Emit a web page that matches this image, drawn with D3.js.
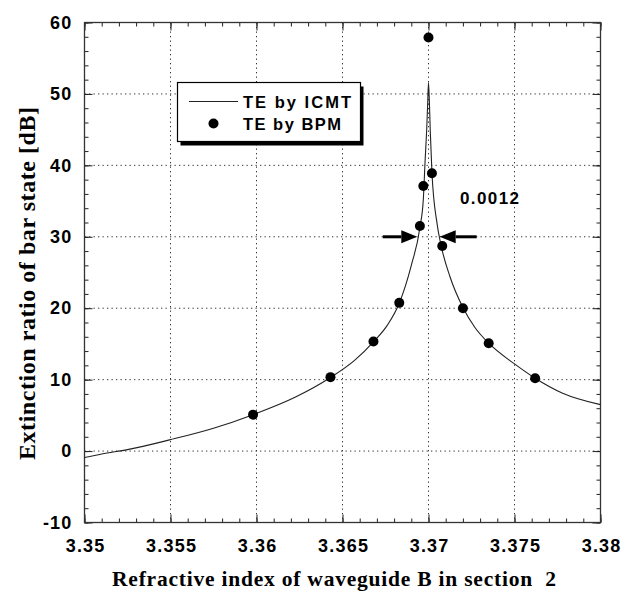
<!DOCTYPE html>
<html><head><meta charset="utf-8">
<script src="https://cdn.jsdelivr.net/npm/d3@7"></script>
<style>
html,body{margin:0;padding:0;background:#fff;}
svg{display:block;}
</style>
</head><body>
<svg id="chart" width="629" height="592"></svg>
<script>
// ---- data ----
const xTicks = [3.35, 3.355, 3.36, 3.365, 3.37, 3.375, 3.38];
const xTickLabels = ["3.35", "3.355", "3.36", "3.365", "3.37", "3.375", "3.38"];
const yTicks = [-10, 0, 10, 20, 30, 40, 50, 60];
const yTickLabels = ["-10", "0", "10", "20", "30", "40", "50", "60"];

// TE by ICMT (solid curve)
const icmtX = [3.3500, 3.3510, 3.3525, 3.3550, 3.3575, 3.3598, 3.3623, 3.3643, 3.3657, 3.3668, 3.3676, 3.3683,
               3.3690, 3.3695, 3.3697, 3.3698, 3.3699, 3.36995, 3.3700, 3.37005, 3.3701, 3.3702, 3.3705, 3.37073,
               3.37125, 3.3720, 3.3727, 3.3735, 3.3750, 3.3762, 3.3778, 3.3800];
const icmtY = [-0.9, -0.4, 0.2, 1.6, 3.2, 5.1, 7.6, 10.3, 12.7, 15.3, 17.6, 20.7,
               26.0, 31.3, 35.3, 40.5, 45.3, 48.5, 51.6, 49.0, 45.0, 39.0, 31.8, 28.8,
               24.4, 20.1, 17.3, 15.1, 12.2, 10.2, 8.1, 6.5];

// TE by BPM (dots)
const bpmX = [3.3598, 3.3643, 3.3668, 3.3683, 3.3695, 3.3697, 3.3700, 3.3702, 3.3708, 3.3720, 3.3735, 3.3762];
const bpmY = [5.1, 10.35, 15.35, 20.75, 31.5, 37.1, 57.9, 38.9, 28.7, 20.0, 15.1, 10.2];

// width annotation
const arrowTipX = [3.36935, 3.37065];
const arrowTailX = [3.36734, 3.37280];
const arrowY = 30;
const widthLabel = "0.0012";

// ---- layout ----
const svg = d3.select("#chart");
const L = 84.5, R = 600.5, T = 22.5, B = 522.5;
const x = d3.scaleLinear().domain([3.35, 3.38]).range([L, R]);
const y = d3.scaleLinear().domain([-10, 60]).range([B, T]);
const sansB = "'Liberation Sans', Arial, Helvetica, sans-serif";
const serifB = "'Liberation Serif', 'Times New Roman', serif";

// grid
const grid = svg.append("g").attr("stroke", "#333").attr("stroke-width", 1)
  .attr("stroke-dasharray", "1.3,3.2").attr("fill", "none");
xTicks.slice(1, -1).forEach(v => grid.append("line")
  .attr("x1", x(v)).attr("x2", x(v)).attr("y1", T).attr("y2", B));
yTicks.slice(1, -1).forEach(v => grid.append("line")
  .attr("x1", L).attr("x2", R).attr("y1", y(v)).attr("y2", y(v)));

// minor/major ticks on all four sides
const xMinor = x.ticks(30);
const yMinor = y.ticks(35);
function styleAxis(g){
  g.select(".domain").remove();
  g.selectAll(".tick line").attr("stroke", "#222").attr("stroke-width", 1);
}
svg.append("g").attr("transform", `translate(0,${B})`)
  .call(d3.axisBottom(x).tickValues(xMinor).tickSize(-4).tickFormat("")).call(styleAxis);
svg.append("g").attr("transform", `translate(0,${T})`)
  .call(d3.axisTop(x).tickValues(xMinor).tickSize(-4).tickFormat("")).call(styleAxis);
svg.append("g").attr("transform", `translate(${L},0)`)
  .call(d3.axisLeft(y).tickValues(yMinor).tickSize(-4).tickFormat("")).call(styleAxis);
svg.append("g").attr("transform", `translate(${R},0)`)
  .call(d3.axisRight(y).tickValues(yMinor).tickSize(-4).tickFormat("")).call(styleAxis);

const xAx = svg.append("g").attr("transform", `translate(0,${B})`)
  .call(d3.axisBottom(x).tickValues(xTicks).tickSize(-8).tickPadding(17)
    .tickFormat((d, i) => xTickLabels[i])).call(styleAxis);
svg.append("g").attr("transform", `translate(0,${T})`)
  .call(d3.axisTop(x).tickValues(xTicks).tickSize(-8).tickFormat("")).call(styleAxis);
const yAx = svg.append("g").attr("transform", `translate(${L},0)`)
  .call(d3.axisLeft(y).tickValues(yTicks).tickSize(-8).tickPadding(12)
    .tickFormat((d, i) => yTickLabels[i])).call(styleAxis);
svg.append("g").attr("transform", `translate(${R},0)`)
  .call(d3.axisRight(y).tickValues(yTicks).tickSize(-8).tickFormat("")).call(styleAxis);

[xAx, yAx].forEach(g => g.selectAll(".tick text")
  .attr("font-family", sansB).attr("font-weight", "bold").attr("font-size", 18)
  .attr("letter-spacing", 1.2).attr("fill", "#000"));
xAx.selectAll(".tick text").attr("dx", "0.6");

// frame
svg.append("rect").attr("x", L).attr("y", T).attr("width", R - L).attr("height", B - T)
  .attr("fill", "none").attr("stroke", "#333").attr("stroke-width", 1.3);

// curve
const pts = icmtX.map((v, i) => [v, icmtY[i]]);
svg.append("path").datum(pts)
  .attr("d", d3.line().x(d => x(d[0])).y(d => y(d[1])).curve(d3.curveMonotoneX))
  .attr("fill", "none").attr("stroke", "#222").attr("stroke-width", 1.1);

// dots
svg.append("g").selectAll("circle").data(bpmX).join("circle")
  .attr("cx", d => x(d)).attr("cy", (d, i) => y(bpmY[i])).attr("r", 5).attr("fill", "#000");

// arrows
const ag = svg.append("g").attr("fill", "#000").attr("stroke", "#000");
const headLen = 16, headHalf = 6.5;
arrowTipX.forEach((tx, i) => {
  const tip = x(tx), tail = x(arrowTailX[i]), yy = y(arrowY);
  const dir = Math.sign(tip - tail);
  ag.append("line").attr("x1", tail).attr("x2", tip - dir * headLen).attr("y1", yy).attr("y2", yy)
    .attr("stroke-width", 3);
  ag.append("path").attr("stroke", "none")
    .attr("d", `M${tip},${yy}L${tip - dir * headLen},${yy - headHalf}L${tip - dir * headLen},${yy + headHalf}Z`);
});
svg.append("text").attr("x", 460).attr("y", 203.5).text(widthLabel)
  .attr("font-family", sansB).attr("font-weight", "bold").attr("font-size", 17)
  .attr("textLength", 59).attr("lengthAdjust", "spacing").attr("fill", "#000");

// legend
const lg = svg.append("g");
lg.append("rect").attr("x", 180.5).attr("y", 86.5).attr("width", 183).attr("height", 59).attr("fill", "#000");
lg.append("rect").attr("x", 177.5).attr("y", 82.5).attr("width", 183).attr("height", 59)
  .attr("fill", "#fff").attr("stroke", "#000").attr("stroke-width", 1.2);
lg.append("line").attr("x1", 189).attr("x2", 238).attr("y1", 101.5).attr("y2", 101.5)
  .attr("stroke", "#222").attr("stroke-width", 1.1);
lg.append("circle").attr("cx", 213.5).attr("cy", 123.5).attr("r", 5).attr("fill", "#000");
const legendLabels = ["TE by ICMT", "TE by BPM"];
const legendBase = [107.5, 130];
const legendLen = [108, 98];
legendLabels.forEach((t, i) => lg.append("text").attr("x", 243).attr("y", legendBase[i])
  .text(t).attr("font-family", sansB).attr("font-weight", "bold").attr("font-size", 16.5)
  .attr("textLength", legendLen[i]).attr("lengthAdjust", "spacing").attr("fill", "#000"));

// axis titles
svg.append("text").attr("x", 112).attr("y", 586).text("Refractive index of waveguide B in section  2")
  .style("white-space", "pre")
  .attr("font-family", serifB).attr("font-weight", "bold").attr("font-size", 21.5)
  .attr("textLength", 444).attr("lengthAdjust", "spacing").attr("fill", "#000");
svg.append("text").attr("transform", "translate(35,460) rotate(-90)")
  .text("Extinction ratio of bar state [dB]")
  .attr("font-family", serifB).attr("font-weight", "bold").attr("font-size", 24)
  .attr("textLength", 353).attr("lengthAdjust", "spacing").attr("fill", "#000");
</script>
</body></html>
